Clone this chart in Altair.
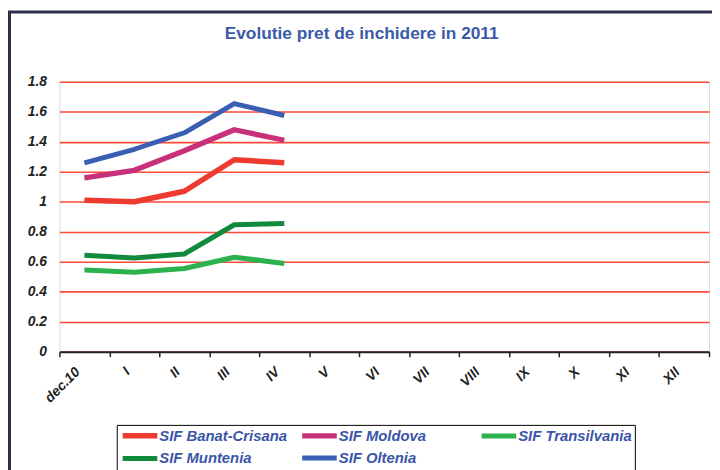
import altair as alt
import pandas as pd

months = ["dec.10", "I", "II", "III", "IV", "V", "VI", "VII", "VIII", "IX", "X", "XI", "XII"]
data_months = ["dec.10", "I", "II", "III", "IV"]

series_names = ["SIF Banat-Crisana", "SIF Moldova", "SIF Transilvania", "SIF Muntenia", "SIF Oltenia"]
banat_crisana = [1.01, 1.00, 1.07, 1.28, 1.26]
moldova = [1.16, 1.21, 1.34, 1.48, 1.41]
transilvania = [0.545, 0.53, 0.555, 0.63, 0.588]
muntenia = [0.643, 0.625, 0.652, 0.847, 0.855]
oltenia = [1.26, 1.35, 1.46, 1.655, 1.575]

colors = ["#EE3B30", "#C8307A", "#2BB24C", "#128A3E", "#3A5FB2"]
widths = [5.5, 5.0, 5.5, 3.2, 3.2]
y_ticks = [0, 0.2, 0.4, 0.6, 0.8, 1.0, 1.2, 1.4, 1.6, 1.8]
title_text = "Evolutie pret de inchidere in 2011"

rows = []
for name, vals in zip(series_names, [banat_crisana, moldova, transilvania, muntenia, oltenia]):
    for m, v in zip(data_months, vals):
        rows.append({"series": name, "month": m, "value": v})
df = pd.DataFrame(rows)

FONT = "Liberation Sans"
W, H = 657, 273

legend = alt.Legend(
    orient="none", legendX=58, legendY=347, direction="horizontal", columns=3,
    title=None, symbolType="M-1,0L6,0", symbolSize=100,
    labelFont=FONT, labelFontSize=15, labelFontStyle="italic", labelFontWeight="bold",
    labelColor="#3B55A8", strokeColor="black", fillColor="white", padding=3,
    rowPadding=1, columnPadding=3.5, labelOffset=24, gridAlign="all", labelLimit=300,
)

lines = alt.Chart(df).mark_line(strokeCap="butt", strokeJoin="round").encode(
    x=alt.X("month:N", scale=alt.Scale(type="band", domain=months, paddingInner=0, paddingOuter=0),
            axis=alt.Axis(title=None, labelAngle=-45, tickBand="extent", labelFont=FONT,
                          labelFontSize=14, labelFontStyle="italic", labelFontWeight="bold",
                          labelColor="#222222", domainColor="#222222", domainWidth=2,
                          tickColor="#222222", tickWidth=1.5, tickSize=5, labelPadding=8,
                          labelOffset=-12, grid=False)),
    y=alt.Y("value:Q", scale=alt.Scale(domain=[0, 1.8], nice=False, zero=True),
            axis=alt.Axis(title=None, values=y_ticks, format=".1~f", domain=False, ticks=False,
                          labelFont=FONT, labelFontSize=14, labelFontStyle="italic",
                          labelFontWeight="bold", labelColor="#222222", labelPadding=13,
                          grid=True, gridColor="#FF4A38", gridWidth=1.6, gridOpacity=1)),
    color=alt.Color("series:N", scale=alt.Scale(domain=series_names, range=colors), legend=legend),
    strokeWidth=alt.StrokeWidth("series:N", scale=alt.Scale(domain=series_names, range=widths), legend=legend),
    detail="series:N",
)

frame_df = pd.DataFrame({"k": [0]})
frame_left = alt.Chart(frame_df).mark_rule(color="#2A2E4A", strokeWidth=3).encode(
    x=alt.value(-50.5), y=alt.value(-70.5), y2=alt.value(H + 120))
frame_top = alt.Chart(frame_df).mark_rule(color="#2A2E4A", strokeWidth=3).encode(
    x=alt.value(-52), x2=alt.value(W + 10), y=alt.value(-70.5))
title = alt.Chart(frame_df).mark_text(
    text=title_text, font=FONT, fontSize=17.5, fontWeight="bold", color="#3B5AA8",
    align="center", baseline="alphabetic").encode(x=alt.value(305.7), y=alt.value(-43))

chart = alt.layer(lines, frame_left, frame_top, title).properties(
    width=W, height=H,
    autosize=alt.AutoSizeParams(type="none"),
    padding={"left": 52, "top": 72, "right": 3, "bottom": 117},
).configure_view(fill="#FAF1A9", stroke=None).configure(background="white")

chart.save("out.html", embed_options={"renderer": "svg", "actions": False})
